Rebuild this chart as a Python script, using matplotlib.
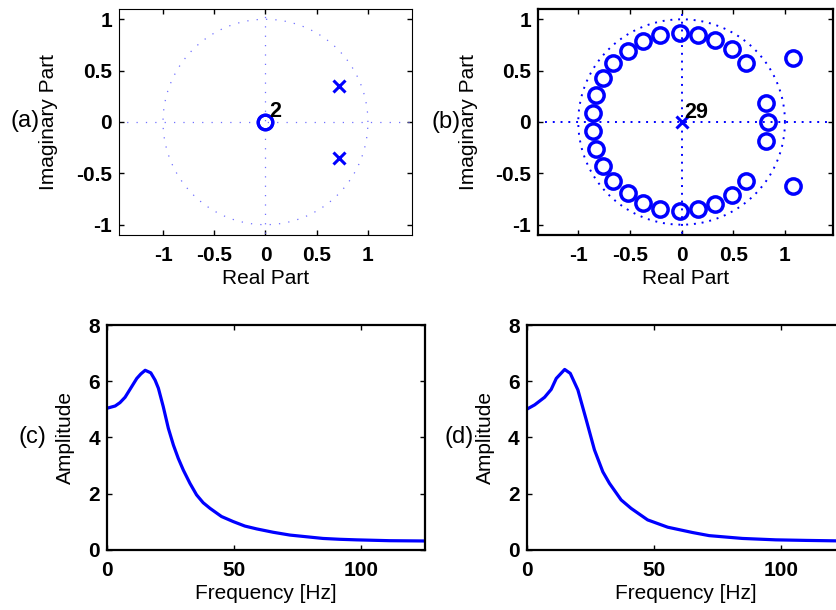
import numpy as np
import matplotlib
matplotlib.use('Agg')
import matplotlib.pyplot as plt

plt.rcParams['font.family'] = ['Liberation Sans', 'DejaVu Sans']
plt.rcParams['axes.unicode_minus'] = False

# (a) pole-zero data
a_zero_re = [0.0, 0.0]
a_zero_im = [0.0, 0.0]
a_pole_re = [0.72, 0.72]
a_pole_im = [0.35, -0.35]

# (b) pole-zero data (29 zeros, 29 poles at origin)
b_zero_re = [-0.86, -0.828, -0.763, -0.667, -0.522, -0.370, -0.209, -0.02,
             0.161, 0.322, 0.483, 0.622, 0.815, 0.837, 1.079,
             -0.86, -0.828, -0.763, -0.667, -0.522, -0.370, -0.209,
             0.161, 0.322, 0.483, 0.622, 0.815, 1.079, -0.02]
b_zero_im = [0.087, 0.259, 0.427, 0.579, 0.693, 0.790, 0.848, 0.870,
             0.848, 0.799, 0.709, 0.579, 0.184, 0.0, 0.621,
             -0.087, -0.259, -0.427, -0.579, -0.693, -0.790, -0.848,
             -0.848, -0.799, -0.709, -0.579, -0.184, -0.621, -0.870]
b_pole_re = [0.0]
b_pole_im = [0.0]

# (c) amplitude response
c_freq = [0, 3.2, 5.1, 7.1, 9.3, 11.7, 13.3, 15.0, 17.2, 18.9, 20.2, 22.1, 24.1,
          26.1, 28.0, 30.0, 32.6, 35.2, 37.8, 40.5, 45.0, 49.6, 54.2, 58.8,
          65.3, 71.9, 78.4, 84.9, 91.5, 98.0, 111.1, 125]
c_amp = [5.04, 5.12, 5.24, 5.43, 5.75, 6.10, 6.26, 6.39, 6.30, 6.04, 5.75, 5.10,
         4.33, 3.73, 3.26, 2.84, 2.37, 1.96, 1.68, 1.48, 1.19, 1.01, 0.85, 0.75,
         0.63, 0.53, 0.47, 0.41, 0.38, 0.36, 0.33, 0.32]

# (d) amplitude response
d_freq = [0, 3.2, 7.1, 9.7, 11.7, 15, 17.2, 20.2, 23.5, 26.7, 30, 32.6, 37.2,
          41.1, 47.6, 55.5, 65.3, 71.8, 84.9, 98, 110, 125]
d_amp = [5.0, 5.16, 5.43, 5.71, 6.1, 6.42, 6.28, 5.69, 4.62, 3.56, 2.78, 2.37,
         1.78, 1.48, 1.07, 0.81, 0.62, 0.51, 0.41, 0.36, 0.34, 0.32]

blue = '#0000ff'
fig = plt.figure(figsize=(8.36, 6.10), dpi=100)

def style(ax, lw):
    for s in ax.spines.values():
        s.set_linewidth(lw)
    ax.tick_params(direction='in', top=True, right=True, length=3.5, width=1)
    ax.tick_params(axis='x', pad=8)
    ax.tick_params(axis='y', pad=5)
    for t in ax.get_xticklabels() + ax.get_yticklabels():
        t.set_fontweight('bold')
        t.set_fontsize(15)

def zplane(ax, zr, zi, pr, pi, xlim, dot_lw, dot_pat, dot_col, ms, mew, label_n, txt_pos):
    th = np.linspace(0, 2 * np.pi, 400)
    ls = (0, dot_pat)
    ax.plot(np.cos(th), np.sin(th), color=dot_col, lw=dot_lw, ls=ls)
    ax.plot([-2, 2], [0, 0], color=dot_col, lw=dot_lw, ls=ls)
    ax.plot([0, 0], [-2, 2], color=dot_col, lw=dot_lw, ls=ls)
    ax.plot(zr, zi, 'o', mfc='none', mec=blue, mew=mew, ms=ms)
    ax.plot(pr, pi, 'x', color=blue, mew=2.2, ms=9)
    ax.text(txt_pos[0], txt_pos[1], label_n, fontsize=15.5, fontweight='bold')
    ax.set_xlim(xlim)
    ax.set_ylim(-1.1, 1.1)
    ax.set_xticks([-1, -0.5, 0, 0.5, 1])
    ax.set_xticklabels(['-1', '-0.5', '0', '0.5', '1'])
    ax.set_yticks([-1, -0.5, 0, 0.5, 1])
    ax.set_yticklabels(['-1', '-0.5', '0', '0.5', '1'])
    ax.set_xlabel('Real Part', fontsize=15)
    ax.set_ylabel('Imaginary Part', fontsize=15)
    ax.xaxis.set_label_coords(0.5, -0.15)

ax_a = fig.add_axes([0.1423, 0.6148, 0.3505, 0.3704])
zplane(ax_a, a_zero_re, a_zero_im, a_pole_re, a_pole_im, (-1.43, 1.43),
       0.9, (1, 6.5), '#7070ff', 10.5, 2.3, '2', (0.04, 0.05))
style(ax_a, 0.8)
ax_a.yaxis.set_label_coords(-0.208, 0.5)

ax_b = fig.add_axes([0.6435, 0.6148, 0.3529, 0.3704])
zplane(ax_b, b_zero_re, b_zero_im, b_pole_re, b_pole_im, (-1.39, 1.465),
       1.4, (1, 3), blue, 11, 2.5, '29', (0.03, 0.04))
style(ax_b, 1.6)
ax_b.yaxis.set_label_coords(-0.203, 0.5)

for pos, f, a, lx in [([0.128, 0.0984, 0.3804, 0.3688], c_freq, c_amp, -0.1006),
                      ([0.6298, 0.0984, 0.3804, 0.3688], d_freq, d_amp, -0.099)]:
    ax = fig.add_axes(pos)
    ax.plot(f, a, color=blue, lw=2.3)
    ax.set_xlim(0, 125)
    ax.set_ylim(0, 8)
    ax.set_xticks([0, 50, 100])
    ax.set_yticks([0, 2, 4, 6, 8])
    ax.set_xlabel('Frequency [Hz]', fontsize=15)
    ax.set_ylabel('Amplitude', fontsize=15)
    style(ax, 1.6)
    ax.yaxis.set_label_coords(lx, 0.5)
    ax.xaxis.set_label_coords(0.5, -0.15)

for x, y, s in [(0.0305, 0.8016, '(a)'), (0.533, 0.80, '(b)'),
                (0.0389, 0.2836, '(c)'), (0.549, 0.2836, '(d)')]:
    fig.text(x, y, s, fontsize=17, ha='center', va='center')

fig.savefig('out.png', dpi=100)
